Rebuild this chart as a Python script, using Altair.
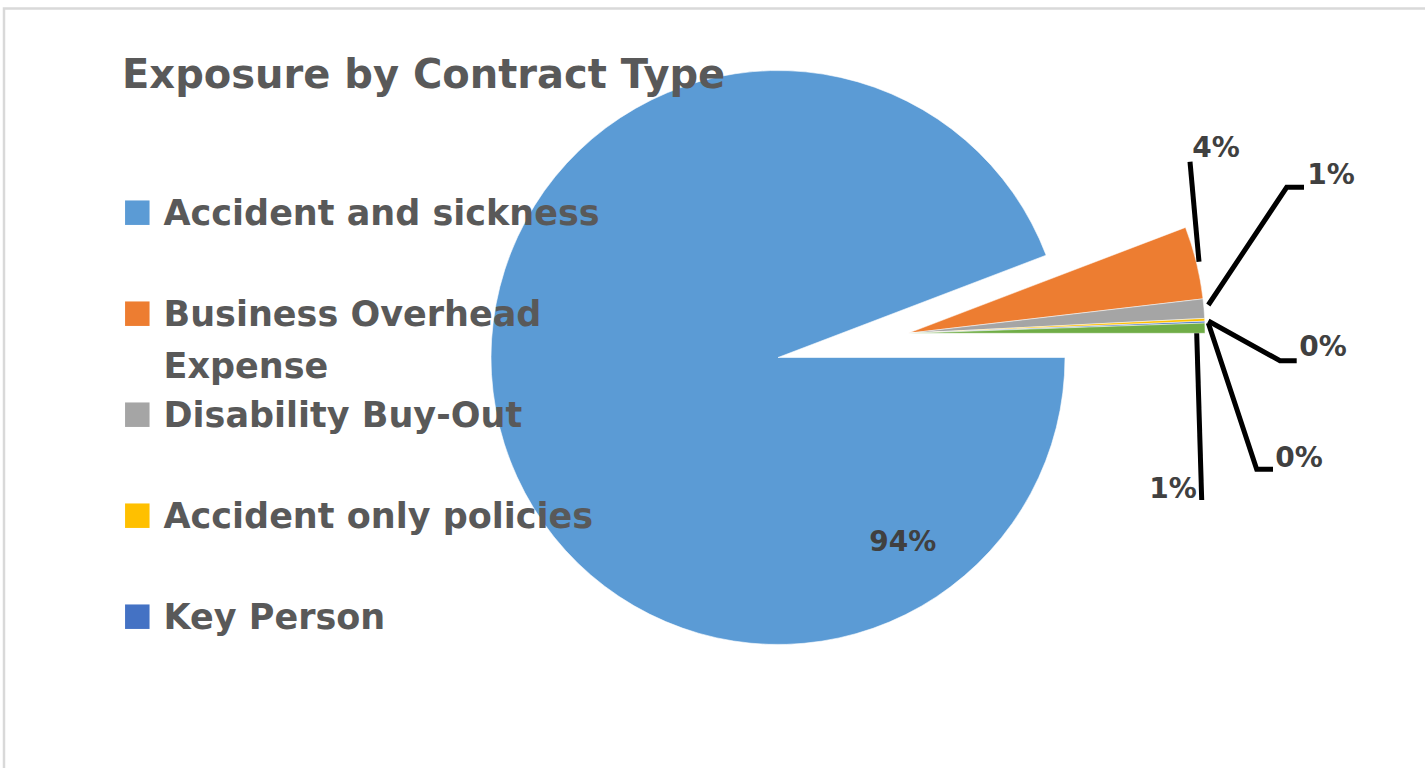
import math
import altair as alt
import pandas as pd

# ---------------- data ----------------
categories = ["Accident and sickness", "Business Overhead Expense", "Disability Buy-Out",
              "Accident only policies", "Key Person", "Other"]
shares = [94.2, 3.95, 1.05, 0.15, 0.10, 0.55]
colors = ["#5B9BD5", "#ED7D31", "#A5A5A5", "#FFC000", "#4472C4", "#70AD47"]
legend_cats = ["Accident and sickness", "Business Overhead Expense", "Disability Buy-Out",
               "Accident only policies", "Key Person"]
legend_text = ["Accident and sickness", "Business Overhead\nExpense", "Disability Buy-Out",
               "Accident only policies", "Key Person"]
title_text = "Exposure by Contract Type"

# ---------------- layout (pixels) ----------------
W, H = 1425, 768
CX, CY, R_MAIN = 778, 357.5, 287
EX, EY, R_SMALL = 908, 333.3, 297
FONT = "DejaVu Sans"
TXT = "#595959"
LBL = "#404040"

label_xy = {
    "Accident and sickness": (902.7, 543),
    "Business Overhead Expense": (1216, 149),
    "Disability Buy-Out": (1331, 176),
    "Accident only policies": (1323, 348),
    "Key Person": (1299, 459),
    "Other": (1173, 490),
}
leader_paths = {
    "Business Overhead Expense": [(1190, 161.7), (1199, 261.7)],
    "Disability Buy-Out": [(1304, 187.3), (1286.7, 187.3), (1208.3, 305)],
    "Accident only policies": [(1296.7, 360.7), (1280, 360.7), (1208.3, 321)],
    "Key Person": [(1273, 469.3), (1256.7, 469.3), (1208.3, 323)],
    "Other": [(1201.7, 500), (1196.7, 333.3)],
}

pie_df = pd.DataFrame({"cat": categories, "value": shares, "idx": list(range(len(categories)))})
lab_df = pd.DataFrame({
    "cat": categories,
    "text": [f"{round(v)}%" for v in shares],
    "x": [label_xy[c][0] for c in categories],
    "y": [label_xy[c][1] for c in categories],
})
rows = []
for c, pts in leader_paths.items():
    for k, (px, py) in enumerate(pts):
        rows.append({"cat": c, "k": k, "x": px, "y": py})
lead_df = pd.DataFrame(rows)
leg_df = pd.DataFrame({"cat": legend_cats, "label": legend_text})
title_df = pd.DataFrame({"t": [title_text]})

xs = alt.Scale(domain=[0, W], range=[0, W])
ys = alt.Scale(domain=[0, H], range=[0, H])
color = alt.Color("cat:N", scale=alt.Scale(domain=categories, range=colors), legend=None)
theta = alt.Theta("value:Q", stack=True,
                  scale=alt.Scale(range=[math.pi / 2, math.pi / 2 + 2 * math.pi]))

border = alt.Chart(pd.DataFrame({"a": [0]})).mark_rect(
    fillOpacity=0, stroke="#d9d9d9", strokeWidth=2.5
).encode(x=alt.value(4), y=alt.value(8.5), x2=alt.value(W + 20), y2=alt.value(H + 20))

main_arc = alt.Chart(pie_df).mark_arc(outerRadius=R_MAIN, stroke="white", strokeWidth=0.6).encode(
    theta=theta, color=color, order=alt.Order("idx:Q"),
    opacity=alt.condition(alt.datum.idx == 0, alt.value(1), alt.value(0)),
    x=alt.value(CX), y=alt.value(CY),
)
small_arc = alt.Chart(pie_df).mark_arc(outerRadius=R_SMALL, stroke="white", strokeWidth=0.5).encode(
    theta=theta, color=color, order=alt.Order("idx:Q"),
    opacity=alt.condition(alt.datum.idx == 0, alt.value(0), alt.value(1)),
    x=alt.value(EX), y=alt.value(EY),
)

leaders = alt.Chart(lead_df).mark_line(color="black", strokeWidth=5, strokeCap="butt").encode(
    x=alt.X("x:Q", scale=xs, axis=None),
    y=alt.Y("y:Q", scale=ys, axis=None),
    detail="cat:N",
    order=alt.Order("k:Q"),
)
labels = alt.Chart(lab_df).mark_text(
    font=FONT, fontSize=28, fontWeight="bold", color=LBL, align="center", baseline="middle"
).encode(
    x=alt.X("x:Q", scale=xs, axis=None),
    y=alt.Y("y:Q", scale=ys, axis=None),
    text="text:N",
)

leg_y = alt.Y("cat:N", scale=alt.Scale(domain=legend_cats, range=[212.7, 616.7], padding=0), axis=None)
leg_sq = alt.Chart(leg_df).mark_square(size=600, opacity=1).encode(
    x=alt.value(137.3), y=leg_y, color=color,
)
leg_tx = alt.Chart(leg_df).mark_text(
    font=FONT, fontSize=35, fontWeight="bold", color=TXT, align="left",
    baseline="alphabetic", dy=12.3, lineBreak="\n", lineHeight=52,
).encode(x=alt.value(163.5), y=leg_y, text="label:N")

title = alt.Chart(title_df).mark_text(
    font=FONT, fontSize=40, fontWeight="bold", color=TXT, align="left", baseline="alphabetic"
).encode(x=alt.value(122), y=alt.value(87.5), text="t:N")

chart = alt.layer(
    border, main_arc, small_arc, leaders, labels, leg_sq, leg_tx, title
).resolve_scale(y="independent").properties(
    width=W, height=H, padding=0, autosize=alt.AutoSizeParams(type="none"), background="white"
).configure_view(strokeWidth=0)

chart.save("out.html", embed_options={"renderer": "svg", "actions": False})
